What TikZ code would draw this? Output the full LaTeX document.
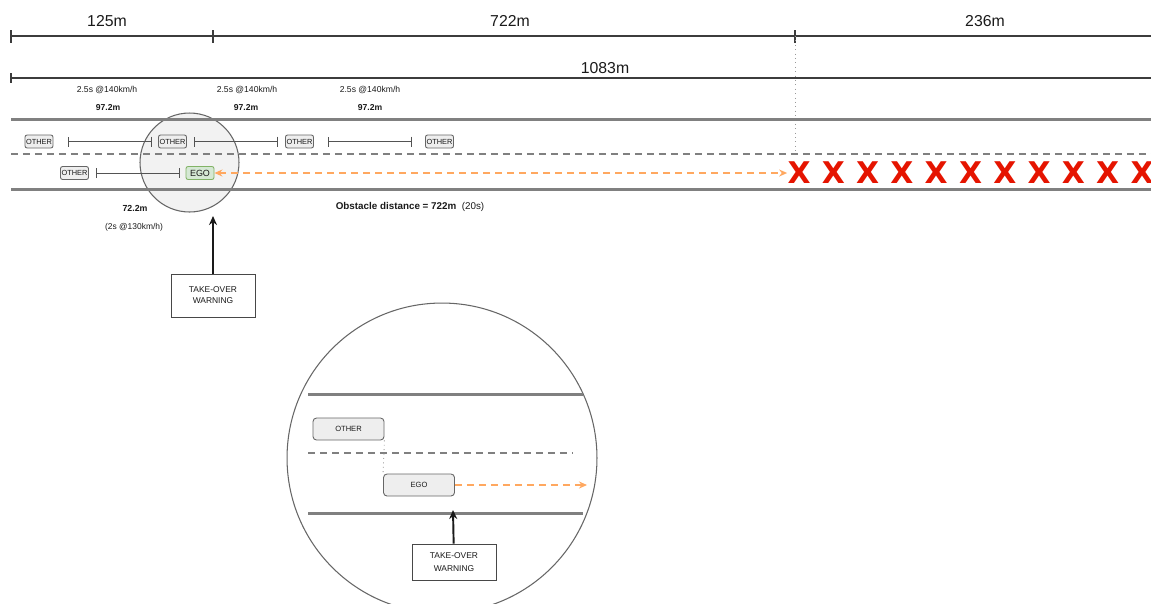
\documentclass[tikz,border=0pt]{standalone}
\usepackage{fontspec}
\setmainfont{Liberation Sans}
\newfontfamily\crossfont{DejaVu Sans}
\usetikzlibrary{arrows.meta, positioning}
\definecolor{Ink}{HTML}{1A1A1A}
\definecolor{Road}{HTML}{808080}
\definecolor{CarFill}{HTML}{EEEEEE}
\definecolor{CarLine}{HTML}{666666}
\definecolor{EgoFill}{HTML}{D5E8D4}
\definecolor{EgoLine}{HTML}{82B366}
\definecolor{Track}{HTML}{FFA860}
\definecolor{Cross}{HTML}{E51400}
\definecolor{Lens}{HTML}{F2F2F2}
\newcommand{\fsz}[2]{\fontsize{#1}{#2}\selectfont}

\begin{document}
\begin{tikzpicture}[
  x=0.02cm, y=-0.02cm,
  font=\fsz{4.9}{6}, text=Ink,
  >={Stealth[length=0.16cm, width=0.14cm]},
  dim/.style={draw=Ink!85, line width=0.6pt},
  span/.style={font=\fsz{9}{11}},
  meter/.style={font=\bfseries\fsz{4.9}{6}},
  guide/.style={draw=Road!80, line width=0.5pt, dotted},
  road/.style={draw=Road, line width=1.7pt},
  lane/.style={draw=Road, line width=0.9pt, dash pattern=on 0.14cm off 0.1cm},
  lens/.style={circle, draw=CarLine, fill=Lens, line width=0.6pt, minimum size=1.98cm, inner sep=0pt},
  zoomview/.style={circle, draw=CarLine, fill=white, line width=0.6pt, minimum size=6.2cm, inner sep=0pt},
  car/.style={draw=CarLine, fill=CarFill, rounded corners=1.2pt, line width=0.5pt, minimum width=0.56cm, minimum height=0.26cm, inner sep=0pt, font=\fsz{4.2}{5}},
  ego/.style={car, draw=EgoLine, fill=EgoFill, font=\fsz{5.1}{6}},
  bigcar/.style={car, minimum width=1.42cm, minimum height=0.44cm, rounded corners=2pt, font=\fsz{4.3}{5}},
  headway/.style={draw=Ink!75, line width=0.5pt, {Bar[width=0.2cm]}-{Bar[width=0.2cm]}},
  track/.style={draw=Track, line width=0.9pt, dash pattern=on 0.14cm off 0.1cm},
  warnbox/.style={draw=Ink!80, line width=0.5pt, fill=white, minimum width=1.68cm, minimum height=0.86cm, align=center, inner sep=0pt, font=\fsz{4.8}{6.2}},
  alert/.style={draw=Ink, line width=1.1pt, -{Stealth[length=0.18cm, width=0.16cm]}},
  cross/.style={text=Cross, inner sep=0pt, font=\crossfont\bfseries\fsz{17}{18}}
]
\clip (0,0) rectangle (1151,603);

% distance bars
\coordinate (d0) at (11,36);
\coordinate (d1) at (213,36);
\coordinate (d2) at (795,36);
\coordinate (dE) at (1151,36);
\draw[dim] (d0) -- (dE);
\foreach \p in {d0,d1,d2}
  \draw[dim] (\p) ++(0,-6) -- ++(0,13);
\node[span] (s1) at (107,21) {125m};
\node[span] (s2) at (510,21) {722m};
\node[span] (s3) at (985,21) {236m};

\coordinate (t0) at (11,78);
\coordinate (tE) at (1151,78);
\draw[dim] (t0) -- (tE);
\draw[dim] (t0) ++(0,-5) -- ++(0,10);
\node[span] (total) at (605,68) {1083m};

\coordinate (g0) at (795,154);
\draw[guide] (d2) -- (g0);

% headway labels
\foreach \x/\y [count=\i] in {107/108, 247/246, 370/370} {
  \node (rate\i) at (\x,90) {2.5s @140km/h};
  \node[meter] (gap\i) at (\y,108) {97.2m};
}

% magnifier
\node[lens] (lens) at (189.5,162.5) {};

% road
\draw[road] (11,119) -- (1151,119);
\draw[lane] (11,154) -- (1151,154);
\draw[road] (11,189) -- (1151,189);

% vehicles
\node[car] (o1) at (39,141.5) {OTHER};
\node[car] (o2) at (172.5,141.5) {OTHER};
\node[car] (o3) at (299.5,141.5) {OTHER};
\node[car] (o4) at (439.5,141.5) {OTHER};
\node[car] (o5) at (74.5,173) {OTHER};
\node[ego] (ego) at (200,173) {EGO};

\draw[headway, shorten <=0.3cm, shorten >=0.13cm] (o1) -- (o2);
\draw[headway, shorten <=0.15cm, shorten >=0.15cm] (o2) -- (o3);
\draw[headway, shorten <=0.29cm, shorten >=0.27cm] (o3) -- (o4);
\draw[headway, shorten <=0.15cm, shorten >=0.12cm] (o5) -- (ego);

% obstacles
\foreach \i in {0,...,10}
  \node[cross] (x\i) at ({799+34.3*\i},173) {X};
\draw[track, <->] (ego) -- (x0);

\node[meter, font=\bfseries\fsz{5}{6}] (ego-gap) at (135,208) {72.2m};
\node[font=\fsz{4.8}{6}] (ego-rate) at (134,227) {(2s @130km/h)};
\node[font=\fsz{5.6}{7}] (obstacle) at (410,207) {\textbf{Obstacle distance = 722m}\ \ (20s)};

\node[warnbox] (warn) at (213,295.5) {TAKE-OVER\\WARNING};
\coordinate (lens-tip) at (213,216);
\draw[alert] (warn) -- (lens-tip);

% zoomed detail
\node[zoomview] (zoom) at (442,458) {};
\draw[road] (308,394) -- (583,394);
\draw[lane] (308,453) -- (573,453);
\draw[road] (308,513) -- (583,513);
\node[bigcar] (z-other) at (348.5,429) {OTHER};
\node[bigcar] (z-ego) at (419,485) {EGO};
\draw[guide] (z-other.south east) -- (z-ego.north west);
\coordinate (z-end) at (587,485);
\draw[track, ->] (z-ego) -- (z-end);

\node[warnbox, minimum height=0.72cm, font=\fsz{4.8}{7}] (z-warn) at (454,562) {TAKE-OVER\\WARNING};
\coordinate (z-tip) at (453,510);
\draw[alert] (z-warn) -- (z-tip);
\end{tikzpicture}
\end{document}
